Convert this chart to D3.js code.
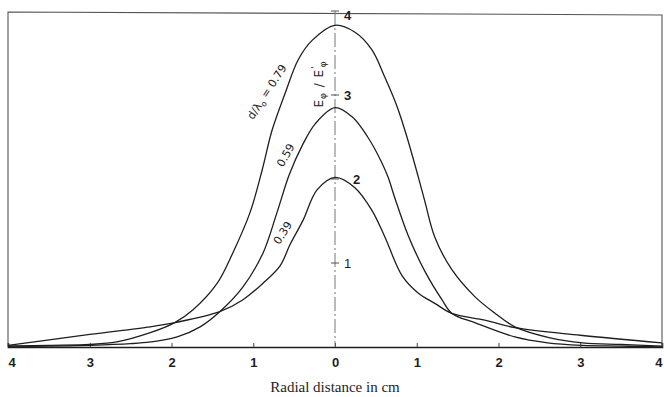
<!DOCTYPE html>
<html>
<head>
<meta charset="utf-8">
<script src="https://cdn.jsdelivr.net/npm/d3@7"></script>
<style>
  body { margin: 0; background: #fff; }
  svg { display: block; }
</style>
</head>
<body>
<div id="chart"></div>
<script>
// radial distance (cm) and field ratio, one pair of arrays per curve
var x079 = [-4, -3.5, -3, -2.67, -2.26, -1.96, -1.74, -1.44, -1.25, -1.04, -0.89, -0.77, -0.61, -0.45, -0.28, 0,
            0.24, 0.45, 0.61, 0.76, 0.88, 1.02, 1.10, 1.22, 1.43, 1.71, 1.96, 2.20, 2.63, 3.03, 3.5, 4];
var y079 = [0.01, 0.02, 0.03, 0.06, 0.17, 0.29, 0.44, 0.76, 1.12, 1.60, 2.11, 2.58, 3.02, 3.42, 3.65, 3.83,
            3.75, 3.54, 3.21, 2.86, 2.50, 2.02, 1.73, 1.31, 0.92, 0.60, 0.40, 0.24, 0.11, 0.05, 0.03, 0.01];

var x059 = [-4, -3.5, -3, -2.5, -2.26, -1.93, -1.65, -1.41, -1.13, -0.88, -0.71, -0.56, -0.40, -0.24, 0,
            0.21, 0.40, 0.57, 0.65, 0.73, 0.89, 1.10, 1.31, 1.43, 1.71, 2.20, 2.6, 3.03, 3.5, 4];
var y059 = [0.01, 0.01, 0.02, 0.04, 0.06, 0.12, 0.24, 0.42, 0.71, 1.12, 1.60, 2.05, 2.40, 2.66, 2.85,
            2.74, 2.50, 2.20, 2.02, 1.78, 1.34, 0.90, 0.56, 0.40, 0.29, 0.12, 0.05, 0.02, 0.01, 0.0];

var x039 = [-4, -3, -2.26, -1.96, -1.41, -1.13, -0.88, -0.67, -0.55, -0.39, -0.22, 0,
            0.24, 0.45, 0.61, 0.82, 1.02, 1.22, 1.43, 1.83, 2.20, 3, 4];
var y039 = [0.02, 0.15, 0.24, 0.29, 0.42, 0.56, 0.76, 0.97, 1.22, 1.51, 1.87, 2.02,
            1.90, 1.63, 1.31, 0.85, 0.64, 0.52, 0.40, 0.32, 0.23, 0.14, 0.05];

var xTicks = [-4, -3, -2, -1, 0, 1, 2, 3, 4];
var xTickLabels = ["4", "3", "2", "1", "0", "1", "2", "3", "4"];
var yTicks = [1, 2, 3, 4];
var yTickLabels = ["1", "2", "3", "4"];

var w = 664, h = 397;

var svg = d3.select("#chart").append("svg")
    .attr("width", w)
    .attr("height", h);

var x = d3.scaleLinear().domain([-4, 4]).range([8, 662]);
var y = d3.scaleLinear().domain([0, 4]).range([347, 11]);

var ink = "#1e1e1e";

// frame (top edge is slightly skewed in the scan)
svg.append("path")
    .attr("d", "M" + x(-4) + "," + y(0) + "V" + (y(4) + 1) + "L" + x(4) + "," + (y(4) + 4) + "V" + y(0))
    .attr("fill", "none")
    .attr("stroke", "#555")
    .attr("stroke-width", 1.1);

// radial axis
var xAxis = d3.axisBottom(x)
    .tickValues(xTicks)
    .tickSize(-4)
    .tickFormat(function (d, i) { return xTickLabels[i]; });

var gx = svg.append("g")
    .attr("transform", "translate(0," + y(0) + ")")
    .call(xAxis);
gx.select(".domain").attr("stroke", ink).attr("stroke-width", 1.6);
gx.selectAll(".tick line").attr("stroke", "#444");
gx.selectAll(".tick text")
    .attr("y", 20)
    .attr("dy", 0)
    .attr("fill", ink)
    .attr("text-anchor", function (d) { return d == 4 ? "end" : (d == -4 ? "start" : "middle"); })
    .style("font-family", "'Liberation Sans', Arial, sans-serif")
    .style("font-size", "13px")
    .style("font-weight", "bold");

// centre axis, dash-dot
svg.append("line")
    .attr("x1", x(0)).attr("x2", x(0))
    .attr("y1", y(4)).attr("y2", y(0))
    .attr("stroke", "#777")
    .attr("stroke-width", 1)
    .attr("stroke-dasharray", "14,3,2,3");

var gy = svg.append("g");
gy.selectAll("line.ytick")
    .data(yTicks)
    .enter().append("line")
    .attr("class", "ytick")
    .attr("x1", x(0) - 4).attr("x2", x(0) + 4)
    .attr("y1", function (d) { return y(d); })
    .attr("y2", function (d) { return y(d); })
    .attr("stroke", "#555");
gy.selectAll("text")
    .data(yTicks)
    .enter().append("text")
    .attr("x", function (d) { return x(0) + (d == 2 ? 18 : 9); })
    .attr("y", function (d) { return y(d) + (d == 4 ? 9 : 5); })
    .attr("fill", ink)
    .style("font-family", "'Liberation Sans', Arial, sans-serif")
    .style("font-size", "13px")
    .style("font-weight", function (d) { return d == 1 ? "normal" : "bold"; })
    .text(function (d, i) { return yTickLabels[i]; });

// curves
var line = d3.line()
    .x(function (d) { return x(d[0]); })
    .y(function (d) { return y(d[1]); })
    .curve(d3.curveCatmullRom.alpha(0.5));

[[x079, y079], [x059, y059], [x039, y039]].forEach(function (s) {
    svg.append("path")
        .datum(d3.zip(s[0], s[1]))
        .attr("d", line)
        .attr("fill", "none")
        .attr("stroke", ink)
        .attr("stroke-width", 1.3);
});

// curve labels, running along the rising flanks
function curveLabel(px, py, angle) {
    return svg.append("text")
        .attr("transform", "translate(" + px + "," + py + ") rotate(" + angle + ")")
        .attr("text-anchor", "middle")
        .attr("fill", ink)
        .style("font-family", "'DejaVu Sans', sans-serif")
        .style("font-size", "11px");
}

var l79 = curveLabel(270, 94, -57);
l79.append("tspan").text("d/λ");
l79.append("tspan").attr("dy", 3).style("font-size", "8px").text("o");
l79.append("tspan").attr("dy", -3).text(" = 0.79");

curveLabel(289, 157, -61).text("0.59");
curveLabel(286, 235, -57).text("0.39");

// field ratio label
var yl = svg.append("text")
    .attr("transform", "translate(323,84) rotate(-90)")
    .attr("text-anchor", "middle")
    .attr("fill", ink)
    .style("font-family", "'DejaVu Sans', sans-serif")
    .style("font-size", "12px")
    .style("letter-spacing", "1px");
yl.append("tspan").text("E");
yl.append("tspan").attr("dy", 3).style("font-size", "9px").text("φ");
yl.append("tspan").attr("dy", -3).text(" / E");
yl.append("tspan").attr("dy", -5).style("font-size", "9px").text("'");
yl.append("tspan").attr("dy", 8).attr("dx", -2).style("font-size", "9px").text("φ");

// axis title
svg.append("text")
    .attr("x", x(0))
    .attr("y", 392)
    .attr("text-anchor", "middle")
    .attr("fill", ink)
    .style("font-family", "'Liberation Serif', 'Times New Roman', serif")
    .style("font-size", "15px")
    .text("Radial distance in cm");
</script>
</body>
</html>
